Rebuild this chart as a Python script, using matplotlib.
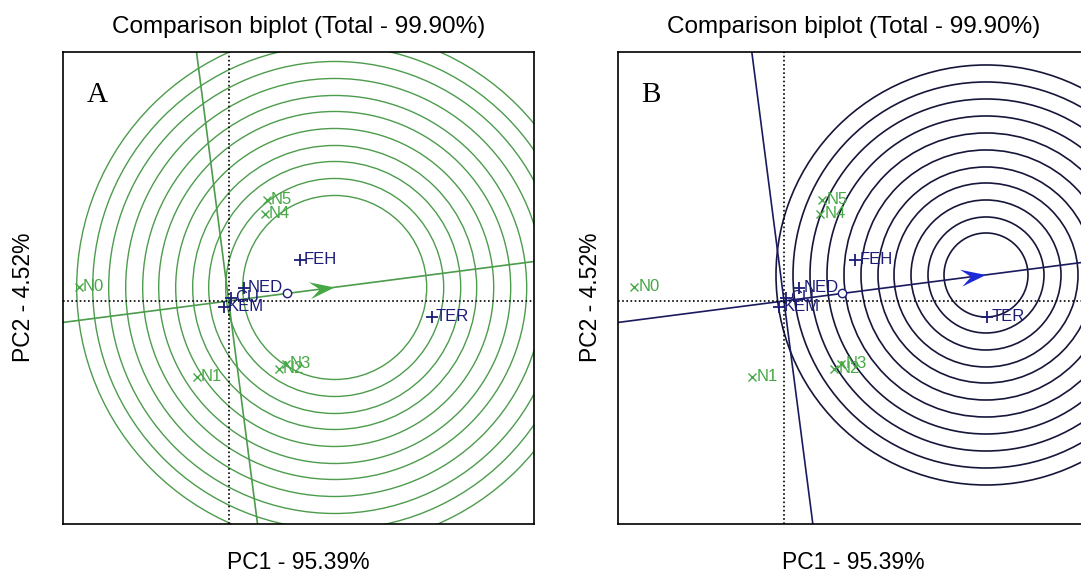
import numpy as np
import matplotlib
matplotlib.use("Agg")
from matplotlib import pyplot as plt
from matplotlib.patches import Circle, Polygon

plt.rcParams['font.family'] = ['Liberation Sans', 'DejaVu Sans']

title = "Comparison biplot (Total - 99.90%)"
x_label = "PC1 - 95.39%"
y_label = "PC2 - 4.52%"

# genotype scores (x markers)
gen_names = ["N0", "N1", "N2", "N3", "N4", "N5"]
gen_pc1 = [-1.50, -0.32, 0.50, 0.57, 0.36, 0.38]
gen_pc2 = [0.14, -0.76, -0.68, -0.63, 0.87, 1.01]

# tester scores (+ markers)
env_names = ["FEH", "NED", "CU", "KEM", "TER"]
env_pc1 = [0.71, 0.15, 0.02, -0.05, 2.03]
env_pc2 = [0.41, 0.13, 0.03, -0.06, -0.16]

# average environment coordinate
aec = (0.58, 0.075)

# ideal entry + concentric circle radii, panel A / B
ideal_a = (1.06, 0.135)
rings_a = [0.92, 1.09, 1.26, 1.42, 1.59, 1.76, 1.92, 2.09, 2.26, 2.42, 2.58]
ideal_b = (2.02, 0.26)
rings_b = [0.42, 0.58, 0.75, 0.92, 1.08, 1.25, 1.42, 1.59, 1.76, 1.93, 2.10]

xlim = (-1.66, 3.05)
ylim = (-2.23, 2.49)

green = "#45a845"
navy = "#1c1c78"


def panel(ax, letter, ideal, rings, ring_c, line_c, arrow_c, ring_lw, ylab_x):
    for r in rings:
        ax.add_patch(Circle(ideal, r, fill=False, ec=ring_c, lw=ring_lw, zorder=1))
    # average environment axis and its perpendicular through origin
    ax.axline((0, 0), aec, color=line_c, lw=1.2, zorder=2)
    ax.axline((0, 0), (-aec[1], aec[0]), color=line_c, lw=1.2, zorder=2)
    ax.axhline(0, color="black", ls=(0, (1, 1.5)), lw=1.2, zorder=2)
    ax.axvline(0, color="black", ls=(0, (1, 1.5)), lw=1.2, zorder=2)

    ax.plot(gen_pc1, gen_pc2, "x", color=green, ms=6, mew=1.0, zorder=4)
    for n, x, y in zip(gen_names, gen_pc1, gen_pc2):
        ax.annotate(n, (x, y), xytext=(3, 0), textcoords="offset points",
                    color=green, fontsize=12, va="center", zorder=5)
    ax.plot(env_pc1, env_pc2, "+", color=navy, ms=8, mew=1.3, zorder=4)
    for n, x, y in zip(env_names, env_pc1, env_pc2):
        ax.annotate(n, (x, y), xytext=(3, 0), textcoords="offset points",
                    color=navy, fontsize=12, va="center", zorder=5)
    ax.plot(*aec, "o", mfc="white", mec=navy, ms=6, mew=1.0, zorder=4)

    # arrowhead at the ideal point, pointing along the axis
    u = np.array(aec) / np.hypot(*aec)
    nrm = np.array([-u[1], u[0]])
    tip = np.array(ideal)
    L, W = 0.25, 0.085
    head = [tip, tip - L * u + W * nrm, tip - 0.6 * L * u, tip - L * u - W * nrm]
    ax.add_patch(Polygon(head, closed=True, color=arrow_c, lw=0, zorder=6))

    ax.text(0.05, 0.895, letter, transform=ax.transAxes, fontsize=21,
            family="Liberation Serif", va="baseline")
    ax.set_xlim(*xlim)
    ax.set_ylim(*ylim)
    ax.set_xticks([])
    ax.set_yticks([])
    for s in ax.spines.values():
        s.set_linewidth(1.2)
    ax.set_title(title, fontsize=17.5, pad=14)
    ax.set_xlabel(x_label, fontsize=16.5)
    ax.xaxis.set_label_coords(0.5, -0.057)
    ax.set_ylabel(y_label, fontsize=16.5)
    ax.yaxis.set_label_coords(ylab_x, 0.48)


fig = plt.figure(figsize=(10.81, 5.75), dpi=100)
ax_a = fig.add_axes([0.058, 0.0887, 0.4357, 0.8209])
ax_b = fig.add_axes([0.5717, 0.0887, 0.4357, 0.8209])

panel(ax_a, "A", ideal_a, rings_a, "#4c9c4c", "#4c9c4c", "#45a845", 1.0, -0.058)
panel(ax_b, "B", ideal_b, rings_b, "#16163a", "#1a1a5e", "#1a2ad6", 1.2, -0.035)

fig.savefig("out.png", dpi=100)
